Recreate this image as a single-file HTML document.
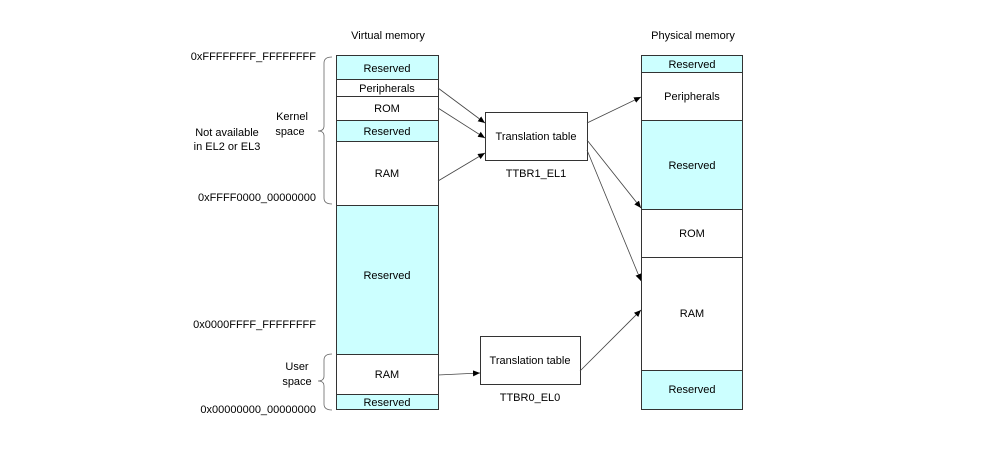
<!DOCTYPE html>
<html><head><style>
body{margin:0;background:#fff;}
svg{display:block;font-family:"Liberation Sans",sans-serif;font-size:11px;}
</style></head><body>
<svg width="997" height="461" viewBox="0 0 997 461">
<defs><marker id="a" markerWidth="8" markerHeight="8" refX="7" refY="3" orient="auto" markerUnits="userSpaceOnUse"><path d="M0,0 L7,3 L0,6z" fill="#000"/></marker></defs>
<g stroke="#333" stroke-width="1">
<rect x="336.5" y="55.5" width="102" height="24" fill="#ccffff"/>
<rect x="336.5" y="79.5" width="102" height="17" fill="#fff"/>
<rect x="336.5" y="96.5" width="102" height="24" fill="#fff"/>
<rect x="336.5" y="120.5" width="102" height="21" fill="#ccffff"/>
<rect x="336.5" y="141.5" width="102" height="64" fill="#fff"/>
<rect x="336.5" y="205.5" width="102" height="149" fill="#ccffff"/>
<rect x="336.5" y="354.5" width="102" height="40" fill="#fff"/>
<rect x="336.5" y="394.5" width="102" height="15" fill="#ccffff"/>
<rect x="641.5" y="55.5" width="101" height="17" fill="#ccffff"/>
<rect x="641.5" y="72.5" width="101" height="48" fill="#fff"/>
<rect x="641.5" y="120.5" width="101" height="89" fill="#ccffff"/>
<rect x="641.5" y="209.5" width="101" height="48" fill="#fff"/>
<rect x="641.5" y="257.5" width="101" height="113" fill="#fff"/>
<rect x="641.5" y="370.5" width="101" height="39" fill="#ccffff"/>
<rect x="485.5" y="112.5" width="102" height="48" fill="#fff"/>
<rect x="480.5" y="336.5" width="100" height="48" fill="#fff"/>
</g>
<g stroke="#444" stroke-width="0.8" fill="none" marker-end="url(#a)">
<line x1="438" y1="88" x2="485" y2="123"/>
<line x1="438" y1="108" x2="485" y2="138"/>
<line x1="438" y1="181" x2="485" y2="153"/>
<line x1="587" y1="123" x2="641" y2="97"/>
<line x1="587" y1="140" x2="641" y2="208"/>
<line x1="587" y1="150" x2="641" y2="281"/>
<line x1="438" y1="375" x2="480" y2="373"/>
<line x1="580" y1="371" x2="641" y2="310"/>
</g>
<g stroke="#666" stroke-width="0.8" fill="none">
<path d="M332,57 Q324,57 324,63 L324,126 Q324,131 318,131 Q324,131 324,136 L324,198 Q324,204 332,204"/>
<path d="M332,354 Q324,354 324,360 L324,376 Q324,381 318,381 Q324,381 324,386 L324,404 Q324,410 332,410"/>
</g>
<g text-anchor="middle" fill="#000">
<text x="388" y="39">Virtual memory</text>
<text x="693" y="39">Physical memory</text>
<text x="387" y="72">Reserved</text>
<text x="387" y="92">Peripherals</text>
<text x="387" y="112">ROM</text>
<text x="387" y="135">Reserved</text>
<text x="387" y="177">RAM</text>
<text x="387" y="279">Reserved</text>
<text x="387" y="378">RAM</text>
<text x="387" y="406">Reserved</text>
<text x="692" y="68">Reserved</text>
<text x="692" y="100">Peripherals</text>
<text x="692" y="169">Reserved</text>
<text x="692" y="237">ROM</text>
<text x="692" y="317">RAM</text>
<text x="692" y="393">Reserved</text>
<text x="536" y="140">Translation table</text>
<text x="530" y="364">Translation table</text>
<text x="536" y="177">TTBR1_EL1</text>
<text x="530" y="401">TTBR0_EL0</text>
<text x="292" y="120">Kernel</text>
<text x="290" y="135">space</text>
<text x="227" y="136">Not available</text>
<text x="227" y="150">in EL2 or EL3</text>
<text x="297" y="370">User</text>
<text x="297" y="385">space</text>
</g>
<g text-anchor="end">
<text x="316" y="60">0xFFFFFFFF_FFFFFFFF</text>
<text x="316" y="201">0xFFFF0000_00000000</text>
<text x="316" y="328">0x0000FFFF_FFFFFFFF</text>
<text x="316" y="413">0x00000000_00000000</text>
</g>
</svg>
</body></html>
